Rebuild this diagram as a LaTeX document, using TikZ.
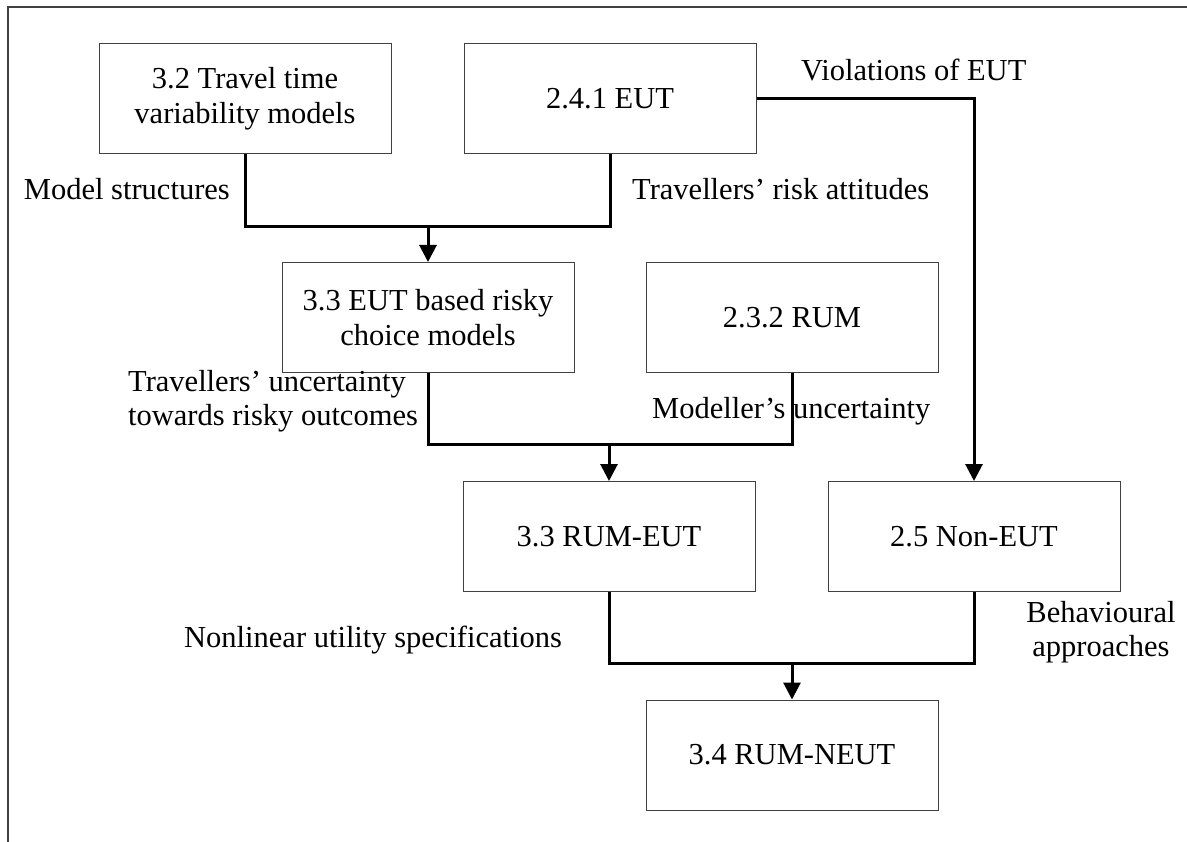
\documentclass[tikz,border=0pt]{standalone}
\usepackage{fontspec}
\setmainfont{Liberation Serif}
\usetikzlibrary{arrows.meta}
\begin{document}
\begin{tikzpicture}[x=1pt,y=-1pt,
  txt/.style={font=\fontsize{30.5}{35}\selectfont},
  box/.style={txt, draw=black!75, line width=1pt, fill=white,
    minimum width=292pt, minimum height=110pt, inner sep=0pt, align=center},
  lbl/.style={txt, inner sep=0pt},
  link/.style={line width=3pt, line join=miter},
  flow/.style={link, -{Triangle[length=17pt,width=17pt]}},
  frame/.style={line width=2pt, draw=black!75}]
\useasboundingbox (0,0) rectangle (1187,842);

% page frame (top and left edges)
\draw[frame] (8,842) -- (8,7) -- (1187,7);

% boxes
\node[box] (A) at (245,99)    {3.2 Travel time\\variability models};
\node[box] (B) at (610,99)    {2.4.1 EUT};
\node[box] (C) at (428,317.5) {3.3 EUT based risky\\choice models};
\node[box] (D) at (792,317.5) {2.3.2 RUM};
\node[box] (E) at (609,536.5) {3.3 RUM-EUT};
\node[box] (F) at (974,536.5) {2.5 Non-EUT};
\node[box] (G) at (792,755)   {3.4 RUM-NEUT};

% labels
\node[lbl, anchor=base west] (viol) at (801,81) {Violations of EUT};
\node[lbl, anchor=base east] (ms) at (230,200) {Model structures};
\node[lbl, anchor=base west] (ra) at (632,200) {Travellers’ risk attitudes};
\node[lbl, anchor=base west] (tu1) at (128,392) {Travellers’ uncertainty};
\node[lbl, anchor=base west] (tu2) at (128,426) {towards risky outcomes};
\node[lbl, anchor=base west] (mu) at (652,418) {Modeller’s uncertainty};
\node[lbl, anchor=base west] (nl) at (184,647) {Nonlinear utility specifications};
\node[lbl, anchor=base] (ba1) at (1101,622) {Behavioural};
\node[lbl, anchor=base] (ba2) at (1101,656) {approaches};

% junction points
\coordinate (jAB) at (428,227);
\coordinate (jCD) at (609,445);
\coordinate (jEF) at (792,663);
\coordinate (bend) at (974,99);

% connectors
\draw[link] (A.south) |- (jAB) -| (B.south);
\draw[flow] (jAB) -- (C.north);
\draw[link] (C.south) |- (jCD) -| (D.south);
\draw[flow] (jCD) -- (E.north);
\draw[link] (E.south) |- (jEF) -| (F.south);
\draw[flow] (jEF) -- (G.north);
\draw[flow] (B.east) -- (bend) -- (F.north);
\end{tikzpicture}
\end{document}
